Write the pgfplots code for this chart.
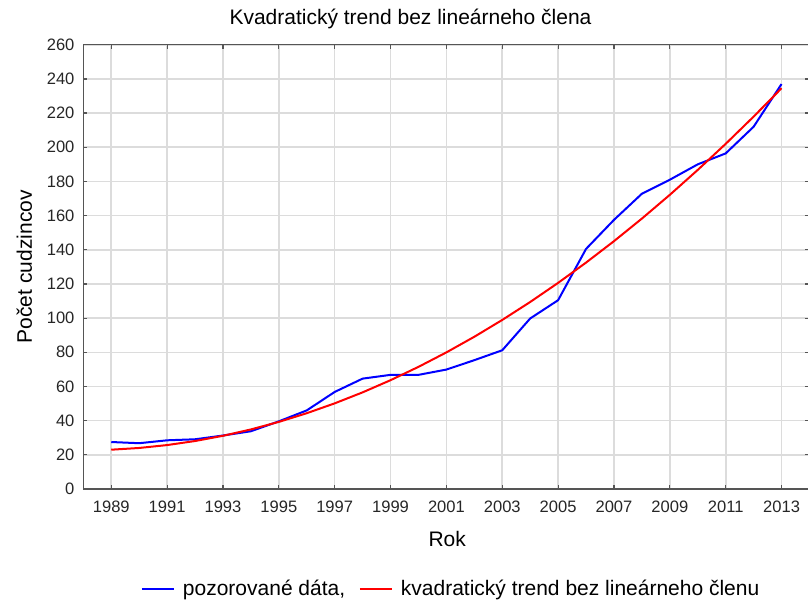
\documentclass[border=0pt]{standalone}
\usepackage{pgfplots}
\pgfplotsset{compat=1.18}
\usepackage{pgfplotstable}
\usepackage{fontspec}
\setmainfont{Liberation Sans}

\pgfplotstableread{
year val
1989 27.5
1990 26.8
1991 28.5
1992 29.1
1993 31.3
1994 33.8
1995 39.6
1996 46.0
1997 56.8
1998 64.6
1999 66.8
2000 66.8
2001 69.9
2002 75.4
2003 81.2
2004 99.8
2005 110.5
2006 140.5
2007 157.5
2008 172.8
2009 181.0
2010 190.0
2011 196.4
2012 212.0
2013 237.0
}\observed

\pgfplotstableread{
year val
1989 23.00
1990 24.02
1991 25.71
1992 28.08
1993 31.14
1994 34.86
1995 39.27
1996 44.36
1997 50.12
1998 56.56
1999 63.68
2000 71.48
2001 79.95
2002 89.10
2003 98.94
2004 109.44
2005 120.63
2006 132.50
2007 145.04
2008 158.26
2009 172.16
2010 186.74
2011 201.99
2012 217.92
2013 234.54
}\trend

\definecolor{gridgray}{RGB}{220,220,220}
\definecolor{spinegray}{RGB}{85,85,85}

\begin{document}
\begin{tikzpicture}
\begin{axis}[
  name=ax,
  scale only axis,
  width=544.6pt, height=333.2pt,
  xmin=1988, xmax=2014,
  ymin=0, ymax=260,
  xtick={1989,1991,...,2013},
  ytick={0,20,...,260},
  xticklabel style={/pgf/number format/1000 sep={}},
  /pgf/number format/assume math mode=true,
  tick label style={font=\fontsize{12.4}{14}\selectfont, text=black!85},
  yticklabel style={inner sep=0pt, xshift=-6.5pt},
  xticklabel style={inner sep=0pt, yshift=-8.5pt},
  tick align=inside,
  major tick length=3pt,
  every tick/.style={spinegray, line width=0.9pt},
  axis line style={spinegray, line width=1.1pt},
  grid=major,
  major grid style={gridgray, line width=1.2pt},
  title={Kvadratický trend bez lineárneho člena},
  title style={at={(axis description cs:0.2010,1.027)}, anchor=base west, inner sep=0pt, font=\fontsize{15.75}{18}\selectfont},
  xlabel={Rok},
  xlabel style={at={(axis description cs:0.5011,-0.130)}, anchor=base, inner sep=0pt, font=\fontsize{15.75}{18}\selectfont},
  ylabel={Počet cudzincov},
  ylabel style={at={(axis description cs:-0.0707,0.5003)}, rotate=0, anchor=base, inner sep=0pt, font=\fontsize{15.75}{18}\selectfont},
  legend columns=2,
  legend style={at={(axis description cs:0.0790,-0.225)}, anchor=west, draw=none, fill=none,
    inner xsep=0pt, inner ysep=0pt,
    nodes={inner sep=0pt, font=\fontsize{15.75}{18}\selectfont},
    /tikz/every odd column/.append style={column sep=6.3pt},
    /tikz/every even column/.append style={column sep=10.3pt}},
  legend image code/.code={\draw[#1] (0pt,0pt) -- (23.7pt,0pt);},
]
\addplot[blue, line width=1.5pt] table[x=year, y=val] {\observed};
\addlegendentry{pozorované dáta,}
\addplot[red, line width=1.5pt] table[x=year, y=val] {\trend};
\addlegendentry{kvadratický trend bez lineárneho členu}
\end{axis}
\pgfresetboundingbox
\path[use as bounding box] (ax.south west) ++(-62.5pt,-84pt) rectangle ++(606pt,450.75pt);
\end{tikzpicture}
\end{document}
